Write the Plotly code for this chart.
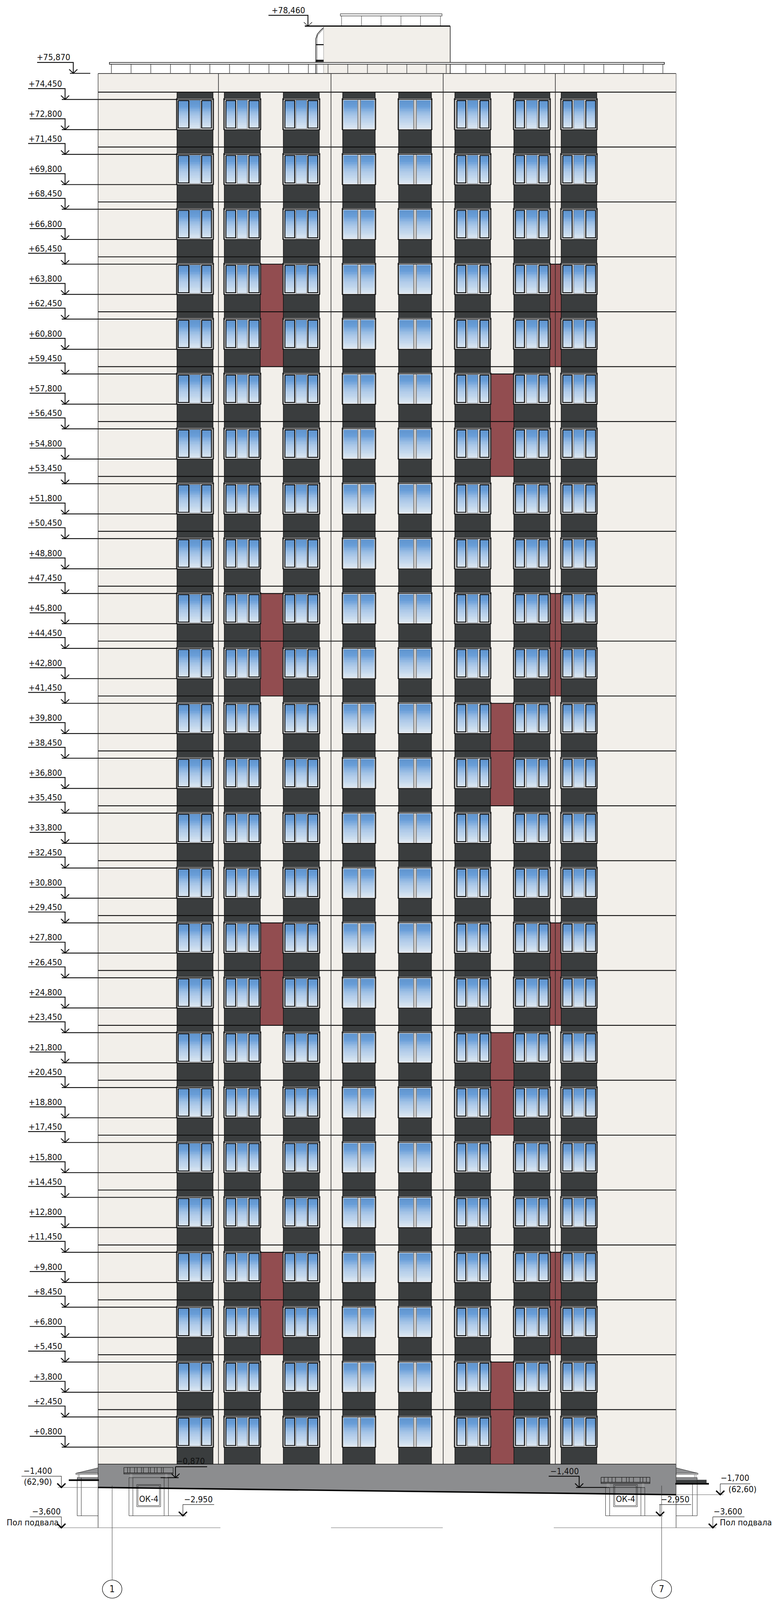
import plotly.graph_objects as go

# ---------- data: elevations (metres) ----------
WINDOW_TOP_LEVELS = [74.45, 71.45, 68.45, 65.45, 62.45, 59.45, 56.45, 53.45, 50.45, 47.45, 44.45, 41.45, 38.45,
                     35.45, 32.45, 29.45, 26.45, 23.45, 20.45, 17.45, 14.45, 11.45, 8.45, 5.45, 2.45]
WINDOW_SILL_LEVELS = [72.80, 69.80, 66.80, 63.80, 60.80, 57.80, 54.80, 51.80, 48.80, 45.80, 42.80, 39.80, 36.80,
                      33.80, 30.80, 27.80, 24.80, 21.80, 18.80, 15.80, 12.80, 9.80, 6.80, 3.80, 0.80]
SLAB_LEVELS = [74.85, 71.85, 68.85, 65.85, 62.85, 59.85, 56.85, 53.85, 50.85, 47.85, 44.85, 41.85, 38.85,
               35.85, 32.85, 29.85, 26.85, 23.85, 20.85, 17.85, 14.85, 11.85, 8.85, 5.85, 2.85]
ROOF_LEVEL = 75.87
TOP_LEVEL = 78.46
BASE_LEVEL = -0.13
RED_A_TOPS = [65.45, 47.45, 29.45, 11.45]
RED_A_BOTTOMS = [59.85, 41.85, 23.85, 5.85]
RED_C_TOPS = [59.45, 41.45, 23.45, 5.45]
RED_C_BOTTOMS = [53.85, 35.85, 17.85, -0.13]

# ---------- drawing columns (x units = drawing units) ----------
WALL_LEFT, WALL_RIGHT = 251, 1730
WALL_JOINTS = [559, 847, 1134, 1421]
DARK_COLUMNS = [(453, 545), (574, 666), (725, 817), (877, 960), (1020, 1104), (1164, 1255), (1315, 1407), (1436, 1527)]
PANES = [
    [(457, 482), (485, 513), (517, 540)],
    [(579, 602), (607, 633), (638, 662)],
    [(730, 753), (757, 785), (789, 812)],
    [(879, 915), (923, 959)],
    [(1021, 1058), (1066, 1103)],
    [(1170, 1191), (1196, 1223), (1229, 1250)],
    [(1320, 1341), (1347, 1375), (1380, 1402)],
    [(1441, 1463), (1468, 1495), (1500, 1523)],
]
RED_A = [(666, 725), (1407, 1436)]
RED_C = (1255, 1315)
GLASS_SHADES = [1.0, 0.97, 0.92, 0.86, 0.78, 0.7, 0.62, 0.55, 0.49, 0.43, 0.37, 0.31, 0.25, 0.18, 0.1, 0.04]

PARAPET_POSTS = [285 + 50.4 * i for i in range(29)]
UPPER_POSTS = [874, 925, 975, 1026, 1076, 1127]
LEFT_RAIL_POSTS = [326.5, 332.6, 344.4, 351, 362, 367, 380, 385, 395.4, 402, 413, 418]
RIGHT_RAIL_POSTS = [1546, 1556, 1566, 1575, 1591, 1603, 1610, 1621, 1638, 1645, 1654]

WALL = '#f2efea'
DARK = '#3a3d3e'
RED = '#924d50'
GREY = '#8c8d8f'
FONT = 'DejaVu Sans Condensed, DejaVu Sans'
TEXT_SIZE = 22
FIG_HEIGHT = 4096   # the browser viewport stops at 4096 px; the whole drawing is fitted into it

ROW0, SCALE = 274.0, 50.4
def e(row):
    return 74.45 - (row - ROW0) / SCALE
PX = 1 / SCALE

fills = {}
def rect_fill(color, x0, y0, x1, y1):
    fills.setdefault(color, []).append(f'M{x0},{y0} L{x1},{y0} L{x1},{y1} L{x0},{y1} Z')
def poly_fill(color, pts):
    fills.setdefault(color, []).append('M' + ' L'.join(f'{a},{b}' for a, b in pts) + ' Z')

strokes = {}
def line(style, pts):
    xs, ys = strokes.setdefault(style, ([], []))
    for a, b in pts:
        xs.append(a); ys.append(b)
    xs.append(None); ys.append(None)
def rect(style, x0, y0, x1, y1):
    line(style, [(x0, y0), (x1, y0), (x1, y1), (x0, y1), (x0, y0)])

BLACK2 = ('#0a0a0a', 2.2)
BLACK15 = ('#111111', 1.5)
BLACK1 = ('#222222', 1.0)
GRAY2 = ('#777777', 2.0)
GRAY3 = ('#6b6b6b', 3.0)
GRAY1 = ('#666666', 1.0)
WHITE = ('#ffffff', 1.3)

def arrow(style, x, y):
    line(style, [(x - 10.5, y + 11 * PX), (x, y), (x + 10.5, y + 11 * PX)])

labels = []
def label(text, xr, row, anchor='right', size=TEXT_SIZE):
    labels.append((text, xr, e(row), anchor, size))

rect_fill(WALL, WALL_LEFT, ROOF_LEVEL, WALL_RIGHT, BASE_LEVEL)
rect_fill(WALL, 828, TOP_LEVEL, 1152, ROOF_LEVEL)
for a, b in DARK_COLUMNS:
    rect_fill(DARK, a, SLAB_LEVELS[0], b, BASE_LEVEL)
for tp, bt in zip(RED_A_TOPS, RED_A_BOTTOMS):
    for a, b in RED_A:
        rect_fill(RED, a, tp, b, bt)
for tp, bt in zip(RED_C_TOPS, RED_C_BOTTOMS):
    rect_fill(RED, RED_C[0], tp, RED_C[1], bt)

poly_fill(GREY, [(WALL_LEFT, BASE_LEVEL), (WALL_RIGHT, BASE_LEVEL), (WALL_RIGHT, e(4117)), (WALL_LEFT, e(4097))])
poly_fill('#8f9092', [(194, e(4058)), (251, e(4043)), (251, e(4058))])
poly_fill('#8f9092', [(1730, e(4043)), (1786, e(4058)), (1730, e(4058))])
rect_fill('#8f9092', 197, e(4070), 251, e(4076))
rect_fill('#8f9092', 1730, e(4070), 1784, e(4076))
rect_fill(DARK, 1730, e(4076), 1808, e(4085))

for tp, sl in zip(WINDOW_TOP_LEVELS, WINDOW_SILL_LEVELS):
    for a, b in DARK_COLUMNS:
        rect_fill('#dcdcdc', a, tp + 3 * PX, b, sl)

for tp, sl in zip(WINDOW_TOP_LEVELS, WINDOW_SILL_LEVELS):
    for (a, b), panes in zip(DARK_COLUMNS, PANES):
        top = tp + 3 * PX
        line(GRAY3, [(a - 0.5, top), (a - 0.5, sl)])
        line(GRAY3, [(b + 0.5, top), (b + 0.5, sl)])
        rect(BLACK1, a - 2, top, b + 2, sl)
        line(BLACK2, [(a - 2, tp), (b + 2, tp)])
        line(BLACK2, [(a - 2, sl), (b + 2, sl)])
        rect(WHITE, a + 1.5, tp - 1.5 * PX, b - 1.5, sl + 1.5 * PX)
        if len(panes) == 3:
            for i, (p0, p1) in enumerate(panes):
                if i == 1:
                    rect(('#555555', 1.0), p0, tp - 2 * PX, p1, sl + 2.5 * PX)
                else:
                    rect(('#000000', 2.2), p0 - 1, tp - 3 * PX, p1 + 1, sl + 4.5 * PX)
        else:
            line(('#8c8c8c', 3.0), [(panes[0][1] + 1, tp - 1 * PX), (panes[0][1] + 1, sl + 1 * PX)])
            line(('#8c8c8c', 3.0), [(panes[1][0] - 1, tp - 1 * PX), (panes[1][0] - 1, sl + 1 * PX)])
            line(('#f4f4f4', 1.5), [((panes[0][1] + panes[1][0]) / 2, tp - 1 * PX), ((panes[0][1] + panes[1][0]) / 2, sl + 1 * PX)])
            rect(('#222222', 1.0), a + 0.5, tp - 1 * PX, b - 0.5, sl + 1 * PX)

for a, b in DARK_COLUMNS:
    line(BLACK15, [(a, SLAB_LEVELS[0]), (a, BASE_LEVEL)])
    line(BLACK15, [(b, SLAB_LEVELS[0]), (b, BASE_LEVEL)])
for tp, bt in zip(RED_A_TOPS, RED_A_BOTTOMS):
    line(BLACK2, [(RED_A[0][0], tp), (RED_A[0][1], tp)])
    line(BLACK2, [(RED_A[1][0], tp), (RED_A[1][1], tp)])
for tp in RED_C_TOPS:
    line(BLACK2, [(RED_C[0], tp), (RED_C[1], tp)])

for x in WALL_JOINTS:
    line(('#222222', 1.5), [(x, ROOF_LEVEL), (x, BASE_LEVEL)])
for s in SLAB_LEVELS:
    line(BLACK2, [(WALL_LEFT, s), (WALL_RIGHT, s)])
line(('#222222', 1.2), [(WALL_LEFT, ROOF_LEVEL), (WALL_LEFT, e(4208))])
line(('#777777', 1.5), [(WALL_RIGHT, ROOF_LEVEL), (WALL_RIGHT, BASE_LEVEL)])
line(('#333333', 1.2), [(WALL_RIGHT, BASE_LEVEL), (WALL_RIGHT, e(4208))])
line(BLACK15, [(WALL_LEFT, ROOF_LEVEL), (WALL_RIGHT, ROOF_LEVEL)])
line(BLACK15, [(WALL_LEFT, BASE_LEVEL), (WALL_RIGHT, BASE_LEVEL)])

for x in PARAPET_POSTS:
    line(GRAY2, [(x, e(177)), (x, e(202))])
line(BLACK15, [(1152, e(72)), (1152, ROOF_LEVEL)])
line(('#999999', 1.0), [(828, e(72)), (828, ROOF_LEVEL)])
for x in UPPER_POSTS:
    line(('#777777', 1.5), [(x, e(44)), (x, e(72))])
line(('#000000', 3.0), [(780, TOP_LEVEL), (1152, TOP_LEVEL)])

line(BLACK15, [(828, e(76)), (820, e(84)), (812, e(94)), (808, e(107)), (808, ROOF_LEVEL)])
line(BLACK1, [(828, e(79)), (821, e(87)), (813, e(97)), (811, e(107)), (811, ROOF_LEVEL)])
line(('#000000', 2.5), [(809, e(123)), (828, e(123))])
line(('#000000', 2.5), [(809, e(166)), (828, e(166))])
line(('#000000', 2.5), [(809, e(169)), (828, e(169))])

def level_mark(text, level, x_start=72, style=BLACK2):
    line(style, [(x_start, level + 30 * PX), (166.5, level + 30 * PX), (166.5, level)])
    arrow(style, 166.5, level)
    line(style, [(158, level), (453, level)])
    labels.append((text, 161, level + 43 * PX, 'right', TEXT_SIZE))

for hi, lo in zip(WINDOW_TOP_LEVELS, WINDOW_SILL_LEVELS):
    level_mark('+' + f'{hi:.3f}'.replace('.', ','), hi, 72)
    level_mark('+' + f'{lo:.3f}'.replace('.', ','), lo, 76)

line(BLACK2, [(95, e(172)), (187.5, e(172)), (187.5, e(202))])
arrow(BLACK2, 187.5, e(202))
line(BLACK2, [(179, e(202)), (231, e(202))])
label('+75,870', 182, 158)
line(BLACK2, [(687, e(42)), (788, e(42)), (788, e(72))])
arrow(('#111111', 1.2), 788, e(72))
label('+78,460', 783, 29)

line(('#000000', 3.6), [(WALL_LEFT, e(4097)), (WALL_RIGHT, e(4117))])

line(BLACK1, [(194, e(4058)), (251, e(4043))])
rect(BLACK1, 194, e(4058), 251, e(4061))
line(GRAY1, [(200, e(4061)), (200, e(4070))])
line(GRAY1, [(203, e(4061)), (203, e(4070))])
line(('#000000', 4.0), [(176, e(4077)), (253, e(4077))])
line(BLACK1, [(197.5, e(4070)), (197.5, e(4175))])
line(BLACK1, [(208, e(4070)), (208, e(4175))])
line(BLACK1, [(197.5, e(4175)), (251, e(4175))])
line(BLACK1, [(197.5, e(4070)), (251, e(4070))])

line(BLACK1, [(1730, e(4043)), (1786, e(4058))])
rect(BLACK1, 1730, e(4058), 1786, e(4061))
line(GRAY1, [(1777, e(4061)), (1777, e(4070))])
line(GRAY1, [(1781, e(4061)), (1781, e(4070))])
line(('#000000', 4.0), [(1728, e(4087)), (1814, e(4087))])
line(BLACK1, [(1772, e(4085)), (1772, e(4175))])
line(BLACK1, [(1784, e(4070)), (1784, e(4175))])
line(BLACK1, [(1730, e(4175)), (1784, e(4175))])
line(BLACK1, [(1730, e(4070)), (1784, e(4070))])

rect(('#111111', 1.2), 317, e(4042), 443, e(4060))
line(BLACK15, [(317, e(4057)), (443, e(4057))])
for x in LEFT_RAIL_POSTS:
    line(('#222222', 1.3), [(x, e(4042)), (x, e(4057))])
for x in (334, 337, 424, 427):
    line(('#bbbbbb', 1.0), [(x, e(4060)), (x, e(4070))])
for x in (330, 340, 420, 431):
    line(BLACK1, [(x, e(4070)), (x, e(4175))])
line(BLACK1, [(330, e(4070)), (431, e(4070))])
line(BLACK1, [(330, e(4175)), (476, e(4175))])
rect(BLACK1, 350, e(4089), 411, e(4150))
rect(BLACK1, 353, e(4092), 408, e(4147))
label('ОК-4', 380, 4129, 'center', 22)

rect(('#111111', 1.2), 1538, e(4069), 1663, e(4086))
line(BLACK15, [(1538, e(4083)), (1663, e(4083))])
for x in RIGHT_RAIL_POSTS:
    line(('#222222', 1.3), [(x, e(4069)), (x, e(4083))])
for x in (1554, 1558, 1644, 1647):
    line(('#bbbbbb', 1.0), [(x, e(4086)), (x, e(4097))])
for x in (1549.5, 1560, 1640, 1650):
    line(BLACK1, [(x, e(4097)), (x, e(4175))])
line(BLACK1, [(1549.5, e(4097)), (1650, e(4097))])
line(BLACK1, [(1549.5, e(4175)), (1696, e(4175))])
rect(BLACK1, 1570, e(4089), 1631, e(4150))
rect(BLACK1, 1573, e(4092), 1628, e(4147))
label('ОК-4', 1600.5, 4129, 'center', 22)

BOLD = ('#000000', 3.4)
THIN = ('#222222', 1.2)
line(BLACK2, [(449, e(4040)), (530, e(4040))])
line(BLACK2, [(449, e(4040)), (449, e(4070))])
arrow(BLACK2, 449, e(4070))
line(BLACK2, [(411, e(4070)), (457, e(4070))])
label('−0,870', 487, 4025, 'center')

line(THIN, [(55, e(4066)), (157, e(4066)), (157, e(4097))])
arrow(BOLD, 157, e(4097))
line(GRAY1, [(148, e(4097)), (251, e(4097))])
label('−1,400', 96, 4051, 'center')
label('(62,90)', 97, 4082, 'center')

line(THIN, [(76.5, e(4178)), (157, e(4178)), (157, e(4208))])
arrow(BOLD, 157, e(4208))
label('−3,600', 118, 4163, 'center')
label('Пол подвала', 83, 4193, 'center')

line(THIN, [(468, e(4144)), (548, e(4144))])
line(THIN, [(468, e(4144)), (468, e(4175))])
arrow(BOLD, 468, e(4175))
label('−2,950', 507, 4130, 'center')

line(BLACK2, [(1404, e(4066)), (1482, e(4066)), (1482, e(4097))])
arrow(BLACK2, 1482, e(4097))
line(BLACK2, [(1474, e(4097)), (1559, e(4097))])
line(BLACK1, [(1559, e(4097)), (1650, e(4097))])
label('−1,400', 1444, 4052, 'center')

line(THIN, [(1687, e(4144)), (1768.5, e(4144))])
line(THIN, [(1689, e(4144)), (1689, e(4175))])
arrow(BOLD, 1689, e(4175))
label('−2,950', 1727, 4130, 'center')

line(THIN, [(1843, e(4087)), (1920, e(4087))])
line(THIN, [(1843, e(4087)), (1843, e(4117))])
arrow(BOLD, 1843, e(4117))
line(GRAY1, [(1730, e(4117)), (1851, e(4117))])
label('−1,700', 1880, 4071, 'center')
label('(62,60)', 1900, 4102, 'center')

line(THIN, [(1824, e(4178)), (1905, e(4178))])
line(THIN, [(1824, e(4178)), (1824, e(4208))])
arrow(BOLD, 1824, e(4208))
label('−3,600', 1862, 4163, 'center')
label('Пол подвала', 1908, 4193, 'center')

for a, b in [(148, 564), (847, 1133), (1417, 1833)]:
    line(GRAY1, [(a, e(4208)), (b, e(4208))])

for x in (287, 1693):
    line(('#333333', 1.0), [(x, e(4092)), (x, e(4352))])

x_edges = []
for panes in PANES:
    for a, b in panes:
        x_edges += [a, b]
n_x = len(x_edges) - 1
rows_y, z = [], []
for tp, sl in zip(reversed(WINDOW_TOP_LEVELS), reversed(WINDOW_SILL_LEVELS)):
    y0, y1 = sl + 3 * PX, tp - 2 * PX
    n = len(GLASS_SHADES)
    for i in range(n):
        rows_y.append(y0 + (y1 - y0) * i / n)
        shade = GLASS_SHADES[n - 1 - i]
        z.append([shade if c % 2 == 0 else None for c in range(n_x)])
    rows_y.append(y1)
    z.append([None] * n_x)
rows_y.append(rows_y[-1] + 0.5)

fig = go.Figure()
fig.add_trace(go.Heatmap(x=x_edges, y=rows_y, z=z, zmin=0, zmax=1, showscale=False, hoverinfo='skip',
                         colorscale=[[0, '#dde8f2'], [0.45, '#adc9e9'], [0.85, '#6a9fd9'], [1, '#6196d0']]))

shapes = []
for color, parts in fills.items():
    shapes.append(dict(type='path', path=' '.join(parts), xref='x', yref='y', layer='below',
                       fillcolor=color, line=dict(width=0)))

for (color, width), (xs, ys) in strokes.items():
    fig.add_trace(go.Scatter(x=xs, y=ys, mode='lines', line=dict(color=color, width=width, simplify=False),
                             hoverinfo='skip', showlegend=False))

over = [
    dict(type='rect', x0=280, x1=1700, y0=e(172), y1=e(177), xref='x', yref='y', fillcolor='#f7f7f7',
         line=dict(color='#111111', width=1.5)),
    dict(type='rect', x0=871, x1=1131, y0=e(38), y1=e(44), xref='x', yref='y', fillcolor='#f7f7f7',
         line=dict(color='#333333', width=1.2)),
    dict(type='circle', x0=262, x1=312, y0=e(4402), y1=e(4352), xref='x', yref='y', fillcolor='white',
         line=dict(color='#111111', width=1.3)),
    dict(type='circle', x0=1667.5, x1=1718.5, y0=e(4402), y1=e(4352), xref='x', yref='y', fillcolor='white',
         line=dict(color='#111111', width=1.3)),
]
label('1', 287, 4377, 'center', 24)
label('7', 1693, 4377, 'center', 24)

annotations = []
for text, x, y, anchor, size in labels:
    annotations.append(dict(text=text, x=x, y=y, xref='x', yref='y', showarrow=False, xanchor=anchor,
                            yanchor='middle', font=dict(family=FONT, size=size, color='#111111')))

fig.update_layout(
    width=1978, height=FIG_HEIGHT, margin=dict(l=0, r=0, t=0, b=0),
    paper_bgcolor='white', plot_bgcolor='white', showlegend=False,
    xaxis=dict(range=[0, 1978], visible=False, fixedrange=True),
    yaxis=dict(range=[e(4407), e(0)], visible=False, fixedrange=True),
    shapes=shapes + over, annotations=annotations,
)
fig.write_html("out.html", config={'displayModeBar': False}, post_script="""
document.body.style.margin='0';
var s=document.createElement('style');s.textContent='text{font-stretch:condensed}';document.head.appendChild(s);
""")
